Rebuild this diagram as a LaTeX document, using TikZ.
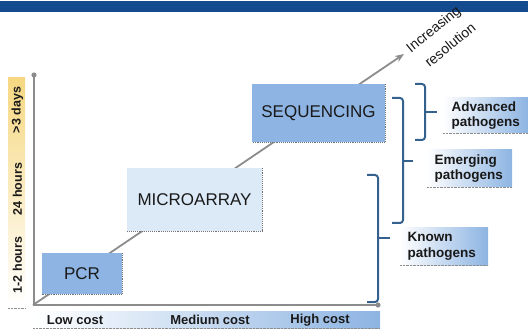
\documentclass[tikz,border=0pt]{standalone}
\usepackage{fontspec}
\setmainfont{Liberation Sans}
\usetikzlibrary{arrows.meta}
\definecolor{topbar}{HTML}{134B8E}
\definecolor{boxblue}{HTML}{8DB4E2}
\definecolor{boxlight}{HTML}{DCEAF8}
\definecolor{bracecol}{HTML}{35618F}
\definecolor{axisgray}{HTML}{8C8C8C}
\definecolor{timeyellow}{HTML}{F6D882}
\begin{document}
\begin{tikzpicture}[x=1pt,y=-1pt,
  techbox/.style={inner sep=0pt, font=\fontsize{17}{19}\selectfont, text=black!90},
  shadowedge/.style={draw=black!55, densely dotted, line width=0.9pt},
  lbl/.style={font=\bfseries\fontsize{13.5}{15.5}\selectfont, align=left, text=black!90},
  costlbl/.style={font=\bfseries\fontsize{13}{15}\selectfont, text=black!90},
  timelbl/.style={rotate=90, font=\bfseries\fontsize{12.5}{14}\selectfont, text=black!90},
  reslbl/.style={rotate=39, font=\fontsize{14}{16}\selectfont, text=black!90},
  bracket/.style={draw=bracecol, line width=2pt, rounded corners=3pt},
  axis/.style={draw=axisgray, line width=1.4pt}]
\useasboundingbox (0,0) rectangle (528,334);
% top bar
\fill[topbar] (0,1.5) rectangle (528,12);

% time axis bar
\shade[top color=timeyellow, bottom color=white] (8,78) rectangle (25,306);
\draw[black!45, densely dotted] (8,308) -- (25,308);
\node[timelbl] (t3) at (17.5,110) {>3 days};
\node[timelbl] (t24) at (17.5,189) {24 hours};
\node[timelbl] (t12) at (17.5,265) {1-2 hours};

% cost bar
\shade[left color=white, right color=boxblue] (33,311) rectangle (380,328);
\draw[black!45, densely dotted] (33,328.5) -- (380,328.5);
\node[costlbl] (c1) at (75,320) {Low cost};
\node[costlbl] (c2) at (210,320) {Medium cost};
\node[costlbl] (c3) at (320,320) {High cost};

% axes
\coordinate (ytop) at (34,75);
\coordinate (orig) at (34,305);
\coordinate (xend) at (378,305);
\draw[axis] (ytop) -- (orig) -- (xend);
\fill[axisgray] (ytop) circle (2.6);
\fill[axisgray] (xend) circle (2.6);

% diagonal arrow
\coordinate (dstart) at (33,305);
\coordinate (dtip) at (404,54);
\draw[draw=axisgray, line width=1.8pt, -{Stealth[length=9pt,width=7pt]}] (dstart) -- (dtip);
\node[reslbl] (res1) at (434,30) {Increasing};
\node[reslbl] (res2) at (450,45) {resolution};

% technology boxes
\node[techbox, fill=boxblue, minimum width=80pt, minimum height=41pt] (pcr) at (82,273.5) {PCR};
\draw[shadowedge] (pcr.north east) -- (pcr.south east) -- (pcr.south west);
\node[techbox, fill=boxlight, minimum width=135pt, minimum height=63pt] (micro) at (194.5,199.5) {MICROARRAY};
\draw[shadowedge] (micro.north east) -- (micro.south east) -- (micro.south west);
\node[techbox, fill=boxblue, minimum width=133pt, minimum height=58pt] (seq) at (318.5,113) {SEQUENCING};
\draw[shadowedge] (seq.north east) -- (seq.south east) -- (seq.south west);

% brackets
\draw[bracket] (415,84) -- (425,84) -- (425,140) -- (415,140);
\draw[bracket] (425,112) -- (437,112);
\draw[bracket] (392,98) -- (403,98) -- (403,223) -- (392,223);
\draw[bracket] (403,161) -- (413,161);
\draw[bracket] (367,175) -- (378,175) -- (378,302) -- (367,302);
\draw[bracket] (378,238) -- (390,238);

% pathogen labels
\shade[left color=white, right color=boxblue] (443,98) rectangle (528,133);
\draw[black!45, densely dotted] (443,133.5) -- (528,133.5);
\node[lbl, anchor=west] (adv) at (448,115.5) {Advanced\\pathogens};
\shade[left color=white, right color=boxblue] (427,150) rectangle (512,187);
\draw[black!45, densely dotted] (427,187.5) -- (512,187.5);
\node[lbl, anchor=west] (emg) at (431,168.5) {Emerging\\pathogens};
\shade[left color=white, right color=boxblue] (400,228) rectangle (488,265);
\draw[black!45, densely dotted] (400,265.5) -- (488,265.5);
\node[lbl, anchor=west] (kno) at (404,246.5) {Known\\pathogens};
\end{tikzpicture}
\end{document}
